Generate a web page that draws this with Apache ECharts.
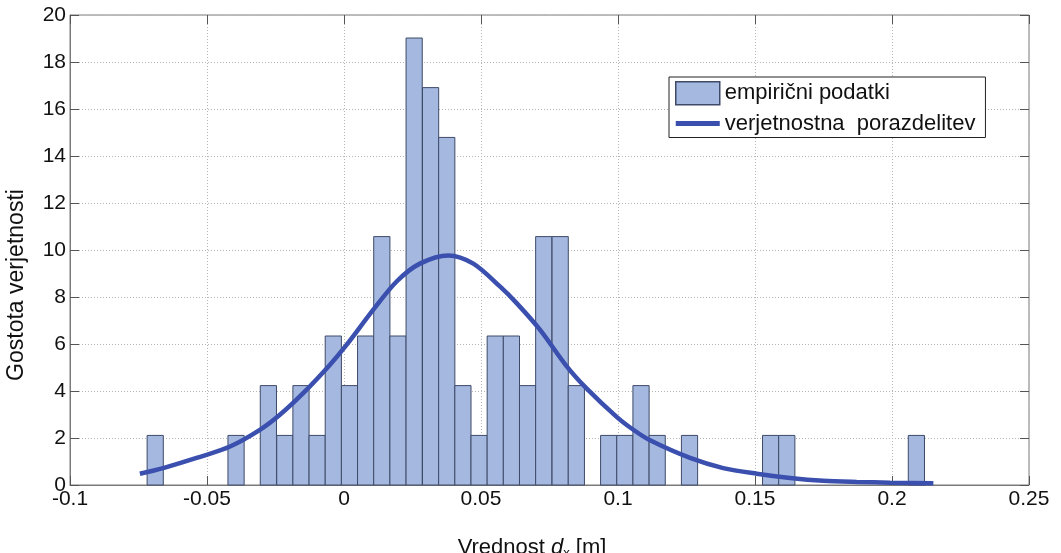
<!DOCTYPE html>
<html>
<head>
<meta charset="utf-8">
<script src="https://cdn.jsdelivr.net/npm/echarts@6/dist/echarts.min.js"></script>
<style>
  html, body { margin: 0; padding: 0; background: #fff; }
  #chart { width: 1061px; height: 553px; }
</style>
</head>
<body>
<div id="chart"></div>
<script>
// histogram bins (centre of each bin) and their density
const binWidth = 0.00591
const binCenters = [
  -0.0689, -0.0630, -0.0571, -0.0512, -0.0453, -0.0394, -0.0335, -0.0276,
  -0.0216, -0.0157, -0.0098, -0.0039, 0.0020, 0.0079, 0.0138, 0.0197,
  0.0256, 0.0316, 0.0375, 0.0434, 0.0493, 0.0552, 0.0611, 0.0670,
  0.0729, 0.0789, 0.0848, 0.0907, 0.0966, 0.1025, 0.1084, 0.1143,
  0.1202, 0.1261, 0.1321, 0.1380, 0.1439, 0.1498, 0.1557, 0.1616,
  0.1675, 0.1734, 0.1794, 0.1853, 0.1912, 0.1971, 0.2030, 0.2089
]
const density = [
  2.11, 0, 0, 0, 0, 2.11, 0, 4.23,
  2.11, 4.23, 2.11, 6.34, 4.23, 6.34, 10.57, 6.34,
  19.02, 16.91, 14.79, 4.23, 2.11, 6.34, 6.34, 4.23,
  10.57, 10.57, 4.23, 0, 2.11, 2.11, 4.23, 2.11,
  0, 2.11, 0, 0, 0, 0, 2.11, 2.11,
  0, 0, 0, 0, 0, 0, 0, 2.11
]

// fitted probability curve
const curveX = [
  -0.0745, -0.066, -0.0538, -0.0416, -0.0307, -0.0234, -0.0149, -0.0051,
  0.0010, 0.0107, 0.0192, 0.0277, 0.0381, 0.0472, 0.0569, 0.0630,
  0.0715, 0.0813, 0.0886, 0.0995, 0.1056, 0.1117, 0.1263, 0.1384,
  0.1506, 0.1628, 0.1749, 0.1871, 0.1993, 0.2151
]
const curveY = [
  0.48, 0.72, 1.15, 1.64, 2.35, 2.99, 3.91, 5.12,
  5.97, 7.46, 8.66, 9.42, 9.77, 9.42, 8.45, 7.74,
  6.61, 5.05, 4.10, 2.90, 2.35, 1.90, 1.15, 0.72,
  0.48, 0.30, 0.18, 0.13, 0.10, 0.07
]

const xTicks = { min: -0.1, max: 0.25, interval: 0.05 }
const yTicks = { min: 0, max: 20, interval: 2 }

const FONT = 'Liberation Sans, Arial, sans-serif'
const tickFmt = v => String(parseFloat(v.toFixed(3)))

const chart = echarts.init(document.getElementById('chart'))

const histData = binCenters.map((c, i) => [c, density[i]])
const curveData = curveX.map((x, i) => [x, curveY[i]])

const innerTick = { show: true, inside: true, length: 9, lineStyle: { color: '#555' } }

chart.setOption({
  animation: false,
  backgroundColor: '#fff',
  grid: {
    left: 70,
    right: 32,
    top: 15,
    bottom: 68,
    outerBoundsMode: 'none',
    containLabel: false,
    show: true,
    borderColor: '#7a7a7a',
    borderWidth: 1
  },
  legend: {
    left: 669,
    top: 77,
    orient: 'vertical',
    padding: [4, 10, 3, 6],
    itemGap: 7,
    itemWidth: 44,
    itemHeight: 23,
    symbolKeepAspect: true,
    backgroundColor: '#fff',
    borderColor: '#222',
    borderWidth: 1,
    borderRadius: 0,
    textStyle: { fontFamily: FONT, fontSize: 22, color: '#111' },
    data: [
      {
        name: 'empirični podatki',
        icon: 'rect',
        itemStyle: { color: '#a5b8e0', borderColor: '#3e4a68', borderWidth: 1.5 }
      },
      {
        name: 'verjetnostna  porazdelitev',
        icon: 'path://M0,0L44,0L44,5L0,5Z',
        itemStyle: { color: '#3a4fae' }
      }
    ]
  },
  xAxis: [
    {
      type: 'value',
      min: xTicks.min,
      max: xTicks.max,
      interval: xTicks.interval,
      name: '{a|Vrednost }{i|d}{s|x}{a| [m]}',
      nameLocation: 'middle',
      nameGap: 51,
      nameTextStyle: {
        padding: [0, 35, 0, 0],
        rich: {
          a: { fontFamily: FONT, fontSize: 22, color: '#111' },
          i: { fontFamily: FONT, fontSize: 22, fontStyle: 'italic', color: '#111' },
          s: { fontFamily: FONT, fontSize: 13, color: '#111', verticalAlign: 'bottom', padding: [11, 0, 0, 0] }
        }
      },
      axisLine: { show: true, onZero: false, lineStyle: { color: '#7a7a7a', width: 1 } },
      axisTick: innerTick,
      axisLabel: {
        fontFamily: FONT, fontSize: 21, color: '#111', margin: 4,
        showMinLabel: true, showMaxLabel: true,
        formatter: tickFmt
      },
      splitLine: { show: true, lineStyle: { color: '#b5b5b5', type: [1, 2], width: 1 } }
    },
    {
      type: 'value',
      position: 'top',
      min: xTicks.min,
      max: xTicks.max,
      interval: xTicks.interval,
      axisLine: { show: false, onZero: false },
      axisTick: innerTick,
      axisLabel: { show: false },
      splitLine: { show: false }
    }
  ],
  yAxis: [
    {
      type: 'value',
      min: yTicks.min,
      max: yTicks.max,
      interval: yTicks.interval,
      name: 'Gostota verjetnosti',
      nameLocation: 'middle',
      nameGap: 42,
      nameTextStyle: { fontFamily: FONT, fontSize: 23, color: '#111', padding: [0, 70, 0, 0] },
      axisLine: { show: true, onZero: false, lineStyle: { color: '#7a7a7a', width: 1 } },
      axisTick: innerTick,
      axisLabel: { fontFamily: FONT, fontSize: 21, color: '#111', margin: 4 },
      splitLine: { show: true, lineStyle: { color: '#b5b5b5', type: [1, 2], width: 1 } }
    },
    {
      type: 'value',
      position: 'right',
      min: yTicks.min,
      max: yTicks.max,
      interval: yTicks.interval,
      axisLine: { show: false, onZero: false },
      axisTick: innerTick,
      axisLabel: { show: false },
      splitLine: { show: false }
    }
  ],
  series: [
    {
      name: 'empirični podatki',
      type: 'custom',
      xAxisIndex: 0,
      yAxisIndex: 0,
      itemStyle: { color: '#a5b8e0', borderColor: '#3e4a68', borderWidth: 1 },
      encode: { x: 0, y: 1 },
      data: histData,
      renderItem: function(params, api) {
        const c = api.value(0)
        const h = api.value(1)
        if (!h) return null
        const p0 = api.coord([c - binWidth / 2, h])
        const p1 = api.coord([c + binWidth / 2, 0])
        return {
          type: 'rect',
          shape: { x: p0[0], y: p0[1], width: p1[0] - p0[0], height: p1[1] - p0[1] },
          style: { fill: '#a5b8e0', stroke: '#3e4a68', lineWidth: 1 }
        }
      }
    },
    {
      name: 'verjetnostna  porazdelitev',
      type: 'line',
      xAxisIndex: 0,
      yAxisIndex: 0,
      smooth: 0.3,
      symbol: 'none',
      z: 5,
      lineStyle: { color: '#3a4fae', width: 4.5 },
      itemStyle: { color: '#3a4fae' },
      data: curveData
    }
  ]
})
</script>
</body>
</html>
